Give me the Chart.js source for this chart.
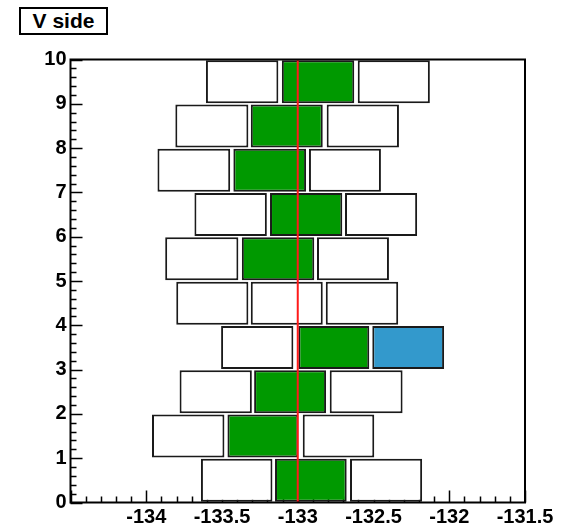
<!DOCTYPE html>
<html>
<head>
<meta charset="utf-8">
<script src="https://cdn.jsdelivr.net/npm/chart.js@4"></script>
<style>
  body { margin: 0; background: #fff; }
  #wrap { position: relative; width: 569px; height: 526px; }
  #ttl {
    position: absolute; left: 19px; top: 7px; width: 89px; height: 28px;
    box-sizing: border-box; border: 2px solid #000; background: #fff;
    font: bold 21px "Liberation Sans", Arial, sans-serif; color: #000;
    text-align: center; line-height: 24px;
  }
</style>
</head>
<body>
<div id="wrap">
  <canvas id="mycanvas" width="569" height="526"></canvas>
  <div id="ttl">V side</div>
</div>
<script>
// row bands (y) and the x-extent of the three boxes in each row
var rows = [0.5, 1.5, 2.5, 3.5, 4.5, 5.5, 6.5, 7.5, 8.5, 9.5];
var leftBox = [
  [-133.639, -133.167], [-133.962, -133.484], [-133.780, -133.303], [-133.506, -133.029],
  [-133.802, -133.326], [-133.875, -133.392], [-133.682, -133.204], [-133.926, -133.446],
  [-133.808, -133.326], [-133.606, -133.128]
];
var midBox = [
  [-133.150, -132.677], [-133.464, -132.996], [-133.288, -132.813], [-132.996, -132.528],
  [-133.310, -132.835], [-133.369, -132.891], [-133.183, -132.706], [-133.425, -132.945],
  [-133.310, -132.835], [-133.105, -132.627]
];
var rightBox = [
  [-132.655, -132.179], [-132.967, -132.495], [-132.789, -132.308], [-132.508, -132.034],
  [-132.815, -132.337], [-132.873, -132.398], [-132.688, -132.212], [-132.926, -132.451],
  [-132.809, -132.332], [-132.604, -132.128]
];
var midFlag = ['g', 'g', 'g', 'g', 'w', 'g', 'g', 'g', 'g', 'g'];
var rightFlag = ['w', 'w', 'w', 'b', 'w', 'w', 'w', 'w', 'w', 'w'];
var refX = -133;

var fills = { g: '#009900', w: '#ffffff', b: '#3399cc' };

function pts(boxes) {
  var out = [];
  for (var i in boxes) out.push({ y: rows[i], x: boxes[i] });
  return out;
}

// ROOT style frame and inside ticks
var rootAxes = {
  id: 'rootAxes',
  beforeDatasetsDraw: function(chart) {
    var c = chart.ctx, a = chart.chartArea;
    var xs = chart.scales.x, ys = chart.scales.y;
    c.save();
    c.strokeStyle = '#000';
    c.lineWidth = 1.5;
    c.beginPath();
    for (var k = 0; k <= 30; k++) {
      var v = -134.5 + k * 0.1;
      var px = Math.round(xs.getPixelForValue(v)) + 0.5;
      var len = (k % 5 === 0) ? 12 : 6;
      c.moveTo(px, a.bottom);
      c.lineTo(px, a.bottom - len);
    }
    for (var j = 0; j <= 50; j++) {
      var py = Math.round(ys.getPixelForValue(j * 0.2)) + 0.5;
      var l2 = (j % 5 === 0) ? 12 : 6;
      c.moveTo(a.left, py);
      c.lineTo(a.left + l2, py);
    }
    c.stroke();
    c.restore();
  },
  afterDraw: function(chart) {
    var c = chart.ctx, a = chart.chartArea;
    c.save();
    c.strokeStyle = '#000';
    c.lineWidth = 2;
    c.strokeRect(a.left, a.top, a.right - a.left, a.bottom - a.top);
    c.restore();
  }
};

var barStyle = {
  borderColor: '#1a1a1a',
  borderWidth: 2,
  borderSkipped: false,
  grouped: false,
  barPercentage: 0.97,
  categoryPercentage: 1.0,
  order: 1
};

var ctx = document.getElementById('mycanvas');
var chart = new Chart(ctx, {
  type: 'bar',
  data: {
    datasets: [
      {
        type: 'line',
        label: 'ref',
        data: [{ x: refX, y: 0 }, { x: refX, y: 10 }],
        borderColor: '#ff1a1a',
        borderWidth: 2,
        pointRadius: 0,
        order: 0
      },
      Object.assign({ label: 'left', data: pts(leftBox), backgroundColor: '#ffffff' }, barStyle),
      Object.assign({ label: 'mid', data: pts(midBox), backgroundColor: midFlag.map(function(f) { return fills[f]; }) }, barStyle),
      Object.assign({ label: 'right', data: pts(rightBox), backgroundColor: rightFlag.map(function(f) { return fills[f]; }) }, barStyle)
    ]
  },
  options: {
    indexAxis: 'y',
    responsive: false,
    animation: false,
    events: [],
    layout: { padding: { top: 59.5, right: 44, left: 0, bottom: 0 } },
    plugins: { legend: { display: false }, tooltip: { enabled: false } },
    scales: {
      x: {
        type: 'linear',
        min: -134.5,
        max: -131.5,
        offset: false,
        grid: { display: false, drawTicks: false },
        border: { display: false },
        ticks: {
          stepSize: 0.5,
          autoSkip: false,
          maxRotation: 0,
          padding: 3,
          color: '#000',
          font: { family: 'Liberation Sans', weight: 'bold', size: 20 },
          callback: function(v) { return Math.abs(v + 134.5) < 1e-6 ? '' : v; }
        },
        afterFit: function(s) { s.height = 23.5; }
      },
      y: {
        type: 'linear',
        min: 0,
        max: 10,
        offset: false,
        grid: { display: false, drawTicks: false, offset: false },
        border: { display: false },
        ticks: {
          stepSize: 1,
          autoSkip: false,
          padding: 4,
          color: '#000',
          font: { family: 'Liberation Sans', weight: 'bold', size: 20 }
        },
        afterFit: function(s) { s.width = 70.5; }
      }
    }
  },
  plugins: [rootAxes]
});
</script>
</body>
</html>
